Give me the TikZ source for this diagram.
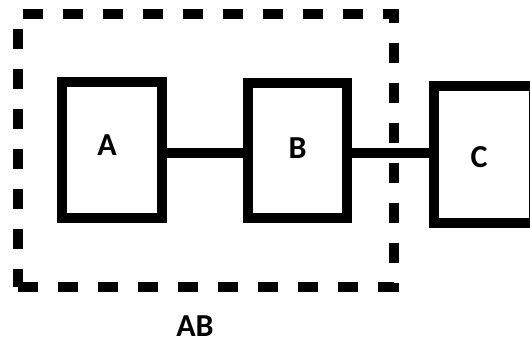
\documentclass[tikz,border=0pt]{standalone}
\usepackage{fontspec}
\setmainfont{Carlito}
\usepackage{tikz}
\usetikzlibrary{positioning}

\begin{document}
\begin{tikzpicture}[x=1pt, y=-1pt,
		block/.style={draw, line width=10pt, minimum width=100pt, minimum height=136pt, inner sep=0pt},
		blocktext/.style={font=\fontsize{32}{38}\selectfont\bfseries, inner sep=0pt},
		group/.style={draw, line width=10pt, dash pattern=on 20pt off 20pt, minimum width=376pt, minimum height=273pt, inner sep=0pt},
		link/.style={line width=10pt}]
		\useasboundingbox (0, 0) rectangle (530, 343);

		\node[group] (groupAB) at (206, 150.5) {};
		\node[block, label={[blocktext, xshift=-5pt, yshift=5pt]center:A}] (A) at (112, 150) {};
		\node[block, minimum width=99pt, minimum height=135pt, label={[blocktext, yshift=2pt]center:B}] (B) at (297.5, 150.5) {};
		\node[block, minimum height=137pt, label={[blocktext, xshift=-5pt, yshift=-3pt]center:C}] (C) at (484, 154.5) {};
		\node[blocktext] (labelAB) at (195, 326) {AB};

		\draw[link] (A.east |- 0, 152.5) -- (B.west |- 0, 152.5);
		\draw[link] (B.east |- 0, 152.5) -- (C.west |- 0, 152.5);
	\end{tikzpicture}
\end{document}
